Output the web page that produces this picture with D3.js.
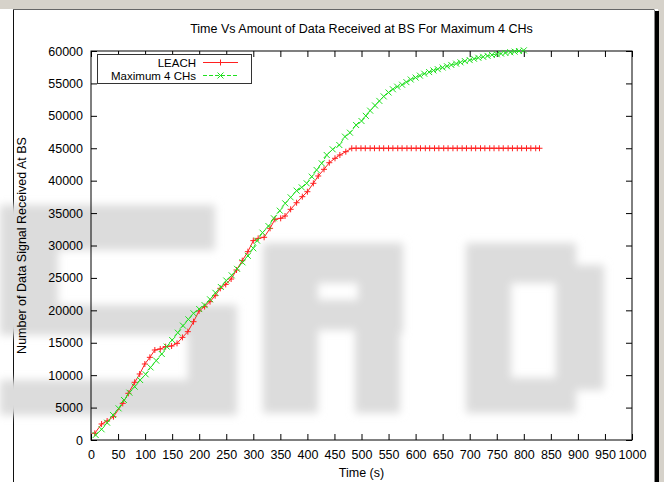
<!DOCTYPE html>
<html>
<head>
<meta charset="utf-8">
<script src="https://cdn.jsdelivr.net/npm/d3@7"></script>
<style>
  body { margin: 0; background: #fff; }
  text { font-family: "Liberation Sans", Arial, Helvetica, sans-serif; }
</style>
</head>
<body>
<svg id="display"></svg>
<script>
// canvas size
var width = 664,
    height = 482;

// plot area (inner box of the gnuplot graph)
var margin = {left: 91, top: 51, right: 632, bottom: 440};

// LEACH series: time (s) and data received
var leachTime = [7, 19.6, 29.8, 41.5, 58.7, 69, 80.7, 90, 99.5, 108.8, 118, 128, 138, 149, 159, 169, 179, 189.5,
  199.7, 210, 220, 229.5, 239, 249, 259, 269, 279.6, 290, 300, 309, 320, 331, 340, 350.6, 358.6, 369, 380,
  390.6, 400, 411, 420, 430.7, 440.5, 451, 460, 471, 482,
  490, 499, 507, 516, 524, 533, 541, 550, 558, 567, 575, 584, 592, 601, 609, 618, 626, 635, 643, 652,
  660, 669, 677, 686, 694, 703, 711, 720, 728, 737, 745, 754, 762, 771, 779, 788, 796, 805, 813, 822, 829];
var leachData = [1030, 2470, 2930, 3600, 5650, 7200, 8900, 10180, 11720, 12750, 13880, 14040, 14400, 14500, 14910, 15830, 16710, 18250,
  19900, 20570, 21340, 22260, 23390, 24000, 24830, 26220, 27660, 29050, 30750, 31100, 31270, 32650, 34040, 34190, 34550, 35580, 36600,
  37530, 38300, 39590, 40720, 41750, 42770, 43450, 43960, 44470, 44990,
  45000, 45000, 45000, 45000, 45000, 45000, 45000, 45000, 45000, 45000, 45000, 45000, 45000, 45000, 45000, 45000, 45000, 45000, 45000, 45000,
  45000, 45000, 45000, 45000, 45000, 45000, 45000, 45000, 45000, 45000, 45000, 45000, 45000, 45000, 45000, 45000, 45000, 45000, 45000, 45000, 45000];

// Maximum 4 CHs series
var maxTime = [8.6, 19.6, 29.8, 40.7, 51, 61, 71, 80.7, 90.8, 101, 110, 120.6, 130.8, 140, 150, 160.5, 170, 180, 189.5,
  200, 210, 220, 230, 240, 250, 260, 270, 280, 290, 300, 307, 317, 328, 338, 349, 359, 369, 380, 389.5, 398.7,
  408, 417, 426.5, 435.7, 446.7, 459, 469.5, 478.7, 490, 500,
  508, 516, 525, 533, 541, 550, 558, 566, 575, 583, 591, 600, 608, 616, 625, 633, 641, 650, 658, 666, 675,
  683, 691, 700, 708, 716, 725, 733, 741, 750, 758, 766, 775, 783, 791, 800];
var maxData = [770, 1650, 2670, 3860, 4880, 6170, 7300, 8230, 9250, 10130, 11200, 12240, 13270, 14400, 15420, 16550, 17640, 18610, 19540,
  20200, 20800, 21700, 22700, 23600, 24600, 25400, 26400, 27400, 28400, 29570, 30750, 31980, 33000, 34200, 35370, 36500, 37430, 38460, 38970, 39590,
  40620, 41650, 42670, 43960, 44840, 45500, 46790, 47400, 48590, 49200,
  50000, 50800, 51600, 52300, 53000, 53600, 54100, 54500, 54800, 55200, 55600, 55900, 56200, 56500, 56750, 57000, 57200, 57450, 57650, 57850, 58050,
  58250, 58450, 58600, 58800, 58950, 59100, 59250, 59400, 59500, 59600, 59700, 59800, 59900, 60000, 60100];

// tick values
var xTicks = d3.range(0, 1001, 50);
var yTicks = d3.range(0, 60001, 5000);

// texts
var title = "Time Vs Amount of Data Received at BS For Maximum 4 CHs";
var xLabel = "Time (s)";
var yLabel = "Number of Data Signal Received At BS";
var seriesNames = ["LEACH", "Maximum 4 CHs"];

var svg = d3.select("#display")
  .attr("width", width)
  .attr("height", height);

// window frame around the picture
svg.append("rect")
  .attr("x", 0).attr("y", 0).attr("width", width).attr("height", height)
  .attr("fill", "#fff");
svg.append("rect")
  .attr("x", 0).attr("y", 0).attr("width", width).attr("height", 9)
  .attr("fill", "#d6d2ca");
svg.append("rect")
  .attr("x", 658).attr("y", 0).attr("width", 6).attr("height", height)
  .attr("fill", "#d6d2ca");
svg.append("line")
  .attr("x1", 13.5).attr("x2", 654).attr("y1", 9.5).attr("y2", 9.5)
  .attr("stroke", "#666");
svg.append("line")
  .attr("x1", 13.5).attr("x2", 13.5).attr("y1", 9.5).attr("y2", height)
  .attr("stroke", "#111");
svg.append("line")
  .attr("x1", 654.5).attr("x2", 654.5).attr("y1", 9.5).attr("y2", height)
  .attr("stroke", "#888");
svg.append("rect")
  .attr("x", 655).attr("y", 11).attr("width", 4).attr("height", height)
  .attr("fill", "#000");

// watermark: blurred blocky letters behind the plot
var defs = svg.append("defs");
defs.append("filter").attr("id", "blur")
  .attr("x", "-10%").attr("y", "-10%").attr("width", "120%").attr("height", "120%")
  .append("feGaussianBlur").attr("stdDeviation", 4);

var wmBlocks = [
  // S
  [0, 205, 215, 45], [0, 205, 58, 130], [0, 305, 237, 30], [188, 305, 49, 110], [0, 380, 237, 35],
  // R
  [263, 243, 55, 170], [263, 243, 140, 40], [358, 243, 45, 90], [263, 300, 140, 30], [355, 320, 45, 93],
  // D
  [466, 243, 45, 170], [466, 243, 110, 40], [556, 265, 48, 125], [466, 378, 110, 35]
];
svg.append("g").attr("filter", "url(#blur)")
  .selectAll("rect").data(wmBlocks).enter().append("rect")
  .attr("x", function(d) { return d[0]; })
  .attr("y", function(d) { return d[1]; })
  .attr("width", function(d) { return d[2]; })
  .attr("height", function(d) { return d[3]; })
  .attr("fill", "#dcdcdc");

// scales
var x = d3.scaleLinear().domain([0, 1000]).range([margin.left, margin.right]);
var y = d3.scaleLinear().domain([0, 60000]).range([margin.bottom, margin.top]);

var tickLen = 6;

// bottom axis with labels, top axis mirrored ticks
svg.append("g")
  .attr("transform", "translate(0," + margin.bottom + ")")
  .call(d3.axisBottom(x).tickValues(xTicks).tickSize(-tickLen).tickPadding(10).tickFormat(d3.format("d")))
  .call(function(g) { g.select(".domain").remove(); });
svg.append("g")
  .attr("transform", "translate(0," + margin.top + ")")
  .call(d3.axisTop(x).tickValues(xTicks).tickSize(-tickLen).tickFormat(""))
  .call(function(g) { g.select(".domain").remove(); });

// left axis with labels, right axis mirrored ticks
svg.append("g")
  .attr("transform", "translate(" + margin.left + ",0)")
  .call(d3.axisLeft(y).tickValues(yTicks).tickSize(-tickLen).tickPadding(8).tickFormat(d3.format("d")))
  .call(function(g) { g.select(".domain").remove(); });
svg.append("g")
  .attr("transform", "translate(" + margin.right + ",0)")
  .call(d3.axisRight(y).tickValues(yTicks).tickSize(-tickLen).tickFormat(""))
  .call(function(g) { g.select(".domain").remove(); });

svg.selectAll(".tick line").attr("stroke", "#000");
svg.selectAll(".tick text")
  .attr("fill", "#000")
  .style("font-size", "12.5px")
  .style("font-family", "'Liberation Sans', Arial, sans-serif");

// plot border
svg.append("rect")
  .attr("x", margin.left).attr("y", margin.top)
  .attr("width", margin.right - margin.left)
  .attr("height", margin.bottom - margin.top)
  .attr("fill", "none")
  .attr("stroke", "#000");

// title and axis labels
svg.append("text")
  .attr("x", (margin.left + margin.right) / 2).attr("y", 33)
  .attr("text-anchor", "middle")
  .style("font-size", "12.5px")
  .text(title);
svg.append("text")
  .attr("x", (margin.left + margin.right) / 2).attr("y", 477)
  .attr("text-anchor", "middle")
  .style("font-size", "12.5px")
  .text(xLabel);
svg.append("text")
  .attr("transform", "translate(26," + ((margin.top + margin.bottom) / 2) + ") rotate(-90)")
  .attr("text-anchor", "middle")
  .style("font-size", "12.5px")
  .text(yLabel);

// point shapes
function plus(g, px, py, color) {
  g.append("path")
    .attr("d", "M" + (px - 3) + "," + py + "h6M" + px + "," + (py - 3) + "v6")
    .attr("stroke", color).attr("fill", "none");
}
function cross(g, px, py, color) {
  g.append("path")
    .attr("d", "M" + (px - 3) + "," + (py - 3) + "l6,6M" + (px - 3) + "," + (py + 3) + "l6,-6")
    .attr("stroke", color).attr("fill", "none");
}

var line = d3.line()
  .x(function(d) { return x(d[0]); })
  .y(function(d) { return y(d[1]); });

var leach = leachTime.map(function(t, i) { return [t, leachData[i]]; });
var maxCH = maxTime.map(function(t, i) { return [t, maxData[i]]; });

var red = "#ff2020", green = "#20e020";

var gRed = svg.append("g");
gRed.append("path").datum(leach).attr("d", line)
  .attr("fill", "none").attr("stroke", red).attr("stroke-width", 1);
leach.forEach(function(d) { plus(gRed, x(d[0]), y(d[1]), red); });

var gGreen = svg.append("g");
gGreen.append("path").datum(maxCH).attr("d", line)
  .attr("fill", "none").attr("stroke", green).attr("stroke-width", 1)
  .attr("stroke-dasharray", "4,2");
maxCH.forEach(function(d) { cross(gGreen, x(d[0]), y(d[1]), green); });

// legend
var legend = svg.append("g");
legend.append("rect")
  .attr("x", 97.5).attr("y", 54.5).attr("width", 154).attr("height", 29)
  .attr("fill", "#fff").attr("stroke", "#333");
[red, green].forEach(function(c, i) {
  var ly = 62.5 + i * 13;
  legend.append("text")
    .attr("x", 196).attr("y", ly + 4)
    .attr("text-anchor", "end")
    .style("font-size", "11.5px")
    .text(seriesNames[i]);
  legend.append("line")
    .attr("x1", 203).attr("x2", 238).attr("y1", ly).attr("y2", ly)
    .attr("stroke", c)
    .attr("stroke-dasharray", i == 1 ? "4,2" : null);
  if(i == 0) plus(legend, 220.5, ly, c);
  else cross(legend, 220.5, ly, c);
});
</script>
</body>
</html>
